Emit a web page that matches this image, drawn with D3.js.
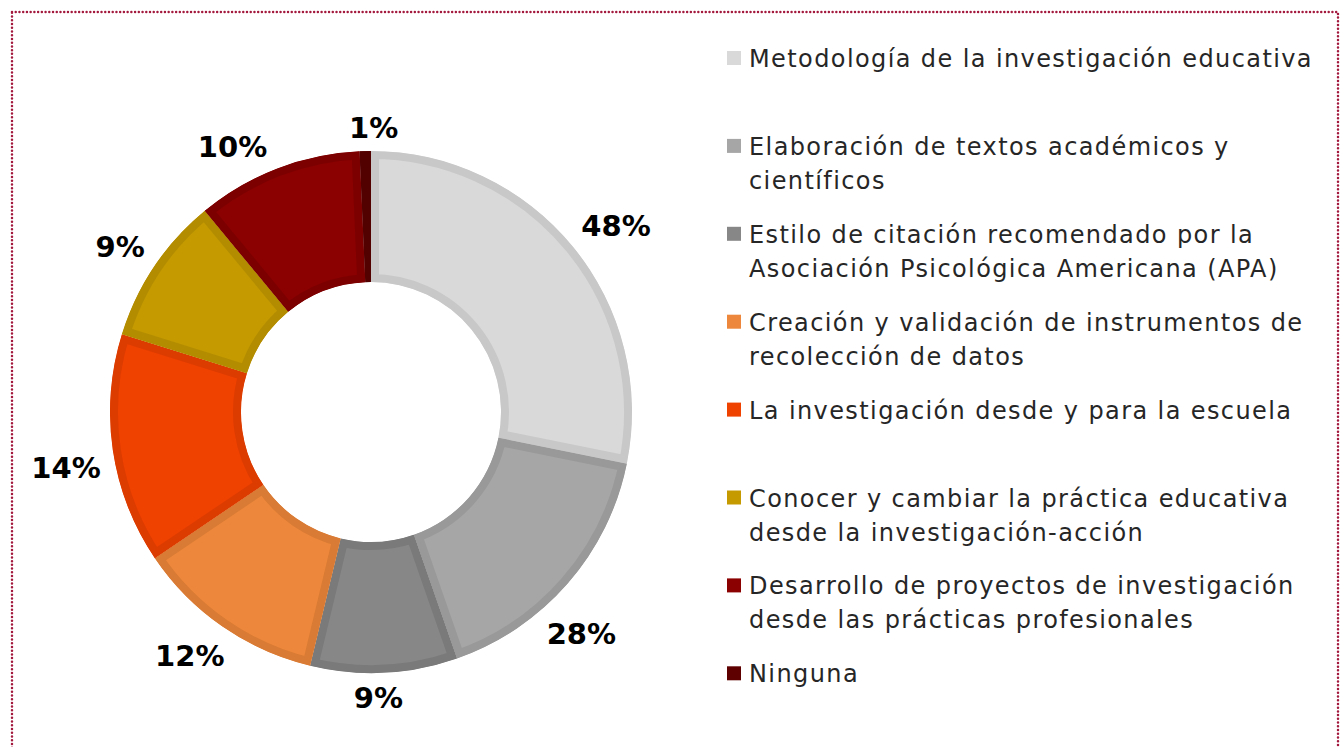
<!DOCTYPE html>
<html>
<head>
<meta charset="utf-8">
<script src="https://cdn.jsdelivr.net/npm/d3@7"></script>
<style>
  body { margin: 0; background: #fff; }
  svg { display: block; font-family: "DejaVu Sans", sans-serif; }
</style>
</head>
<body>
<div id="container"></div>
<script>
// categories, in legend / clockwise order
const categories = [
  ["Metodología de la investigación educativa"],
  ["Elaboración de textos académicos y", "científicos"],
  ["Estilo de citación recomendado por la", "Asociación Psicológica Americana (APA)"],
  ["Creación y validación de instrumentos de", "recolección de datos"],
  ["La investigación desde y para la escuela"],
  ["Conocer y cambiar la práctica educativa", "desde la investigación-acción"],
  ["Desarrollo de proyectos de investigación", "desde las prácticas profesionales"],
  ["Ninguna"]
];
// printed labels
const labels = ["48%", "28%", "9%", "12%", "14%", "9%", "10%", "1%"];
// slice sizes (share of the circle)
const shares = [28.2, 16.5, 9.1, 11.8, 14.3, 9.2, 10.3, 0.7];

const fills   = ["#d9d9d9", "#a6a6a6", "#878787", "#ed873b", "#ef4100", "#c49a00", "#8b0000", "#5e0000"];
const borders = ["#c8c8c8", "#999999", "#7a7a7a", "#d97b34", "#dc3c00", "#b38c00", "#7c0000", "#530000"];
// labels were hand-moved a little in the original (degrees, clockwise)
const labelShiftDeg = [2, 5.4, 1.4, 2, -2, -0.5, -6.5, 1.8];

const w = 1343, h = 747;
const cx = 371, cy = 412, R = 261, r = 130;

const svg = d3.select("#container")
  .append("svg")
  .attr("width", w)
  .attr("height", h);

// dotted frame
svg.append("rect")
  .attr("x", 12).attr("y", 12)
  .attr("width", 1326).attr("height", 780)
  .attr("fill", "none")
  .attr("stroke", "#a3183d")
  .attr("stroke-width", 2.5)
  .attr("stroke-linecap", "round")
  .attr("stroke-dasharray", "0 3.73");

//THE DONUT
const pie = d3.pie().sort(null).value(d => d);
const arcs = pie(shares);
const arc = d3.arc().innerRadius(r).outerRadius(R);

const g = svg.append("g").attr("transform", `translate(${cx},${cy})`);

const defs = svg.append("defs");
arcs.forEach((a, i) => {
  defs.append("clipPath").attr("id", "clip" + i)
    .append("path").attr("d", arc(a));
});

g.selectAll("path.slice")
  .data(arcs)
  .enter()
  .append("path")
  .attr("class", "slice")
  .attr("d", arc)
  .attr("fill", (d, i) => fills[i])
  .attr("stroke", (d, i) => borders[i])
  .attr("stroke-width", 16)
  .attr("stroke-linejoin", "miter")
  .attr("clip-path", (d, i) => `url(#clip${i})`);

//THE LABELS - placed just outside the ring, by their box
const gap = 10, lblSize = 29;
const lbl = g.selectAll("text.lbl")
  .data(arcs)
  .enter()
  .append("text")
  .attr("class", "lbl")
  .attr("text-anchor", "middle")
  .attr("font-size", lblSize)
  .attr("font-weight", "bold")
  .attr("fill", "#000")
  .text((d, i) => labels[i]);

lbl.each(function(d, i) {
  const bb = this.getBBox();
  const capH = lblSize * 0.73;
  const mid = (d.startAngle + d.endAngle) / 2 + labelShiftDeg[i] * Math.PI / 180;
  const sx = Math.sin(mid), sy = -Math.cos(mid);
  const ext = Math.abs(sx) * bb.width / 2 + Math.abs(sy) * capH / 2 + 3;
  const rho = R + gap + ext;
  d3.select(this)
    .attr("x", rho * sx)
    .attr("y", rho * sy + capH / 2);
});

//THE LEGEND
const legendX = 727, textX = 749, rowTop = 67, rowStep = 87.9, lineH = 34, box = 14;
const leg = svg.append("g");
const rows = leg.selectAll("g")
  .data(categories)
  .enter()
  .append("g")
  .attr("transform", (d, i) => `translate(0, ${rowTop + i * rowStep})`);

rows.append("rect")
  .attr("x", legendX)
  .attr("y", -16)
  .attr("width", box)
  .attr("height", box)
  .attr("fill", (d, i) => fills[i]);

rows.append("text")
  .attr("x", textX)
  .attr("font-size", 24)
  .attr("letter-spacing", 1.4)
  .attr("fill", "#262626")
  .selectAll("tspan")
  .data(d => d)
  .enter()
  .append("tspan")
  .attr("x", textX)
  .attr("y", (d, j) => j * lineH)
  .text(d => d);
</script>
</body>
</html>
